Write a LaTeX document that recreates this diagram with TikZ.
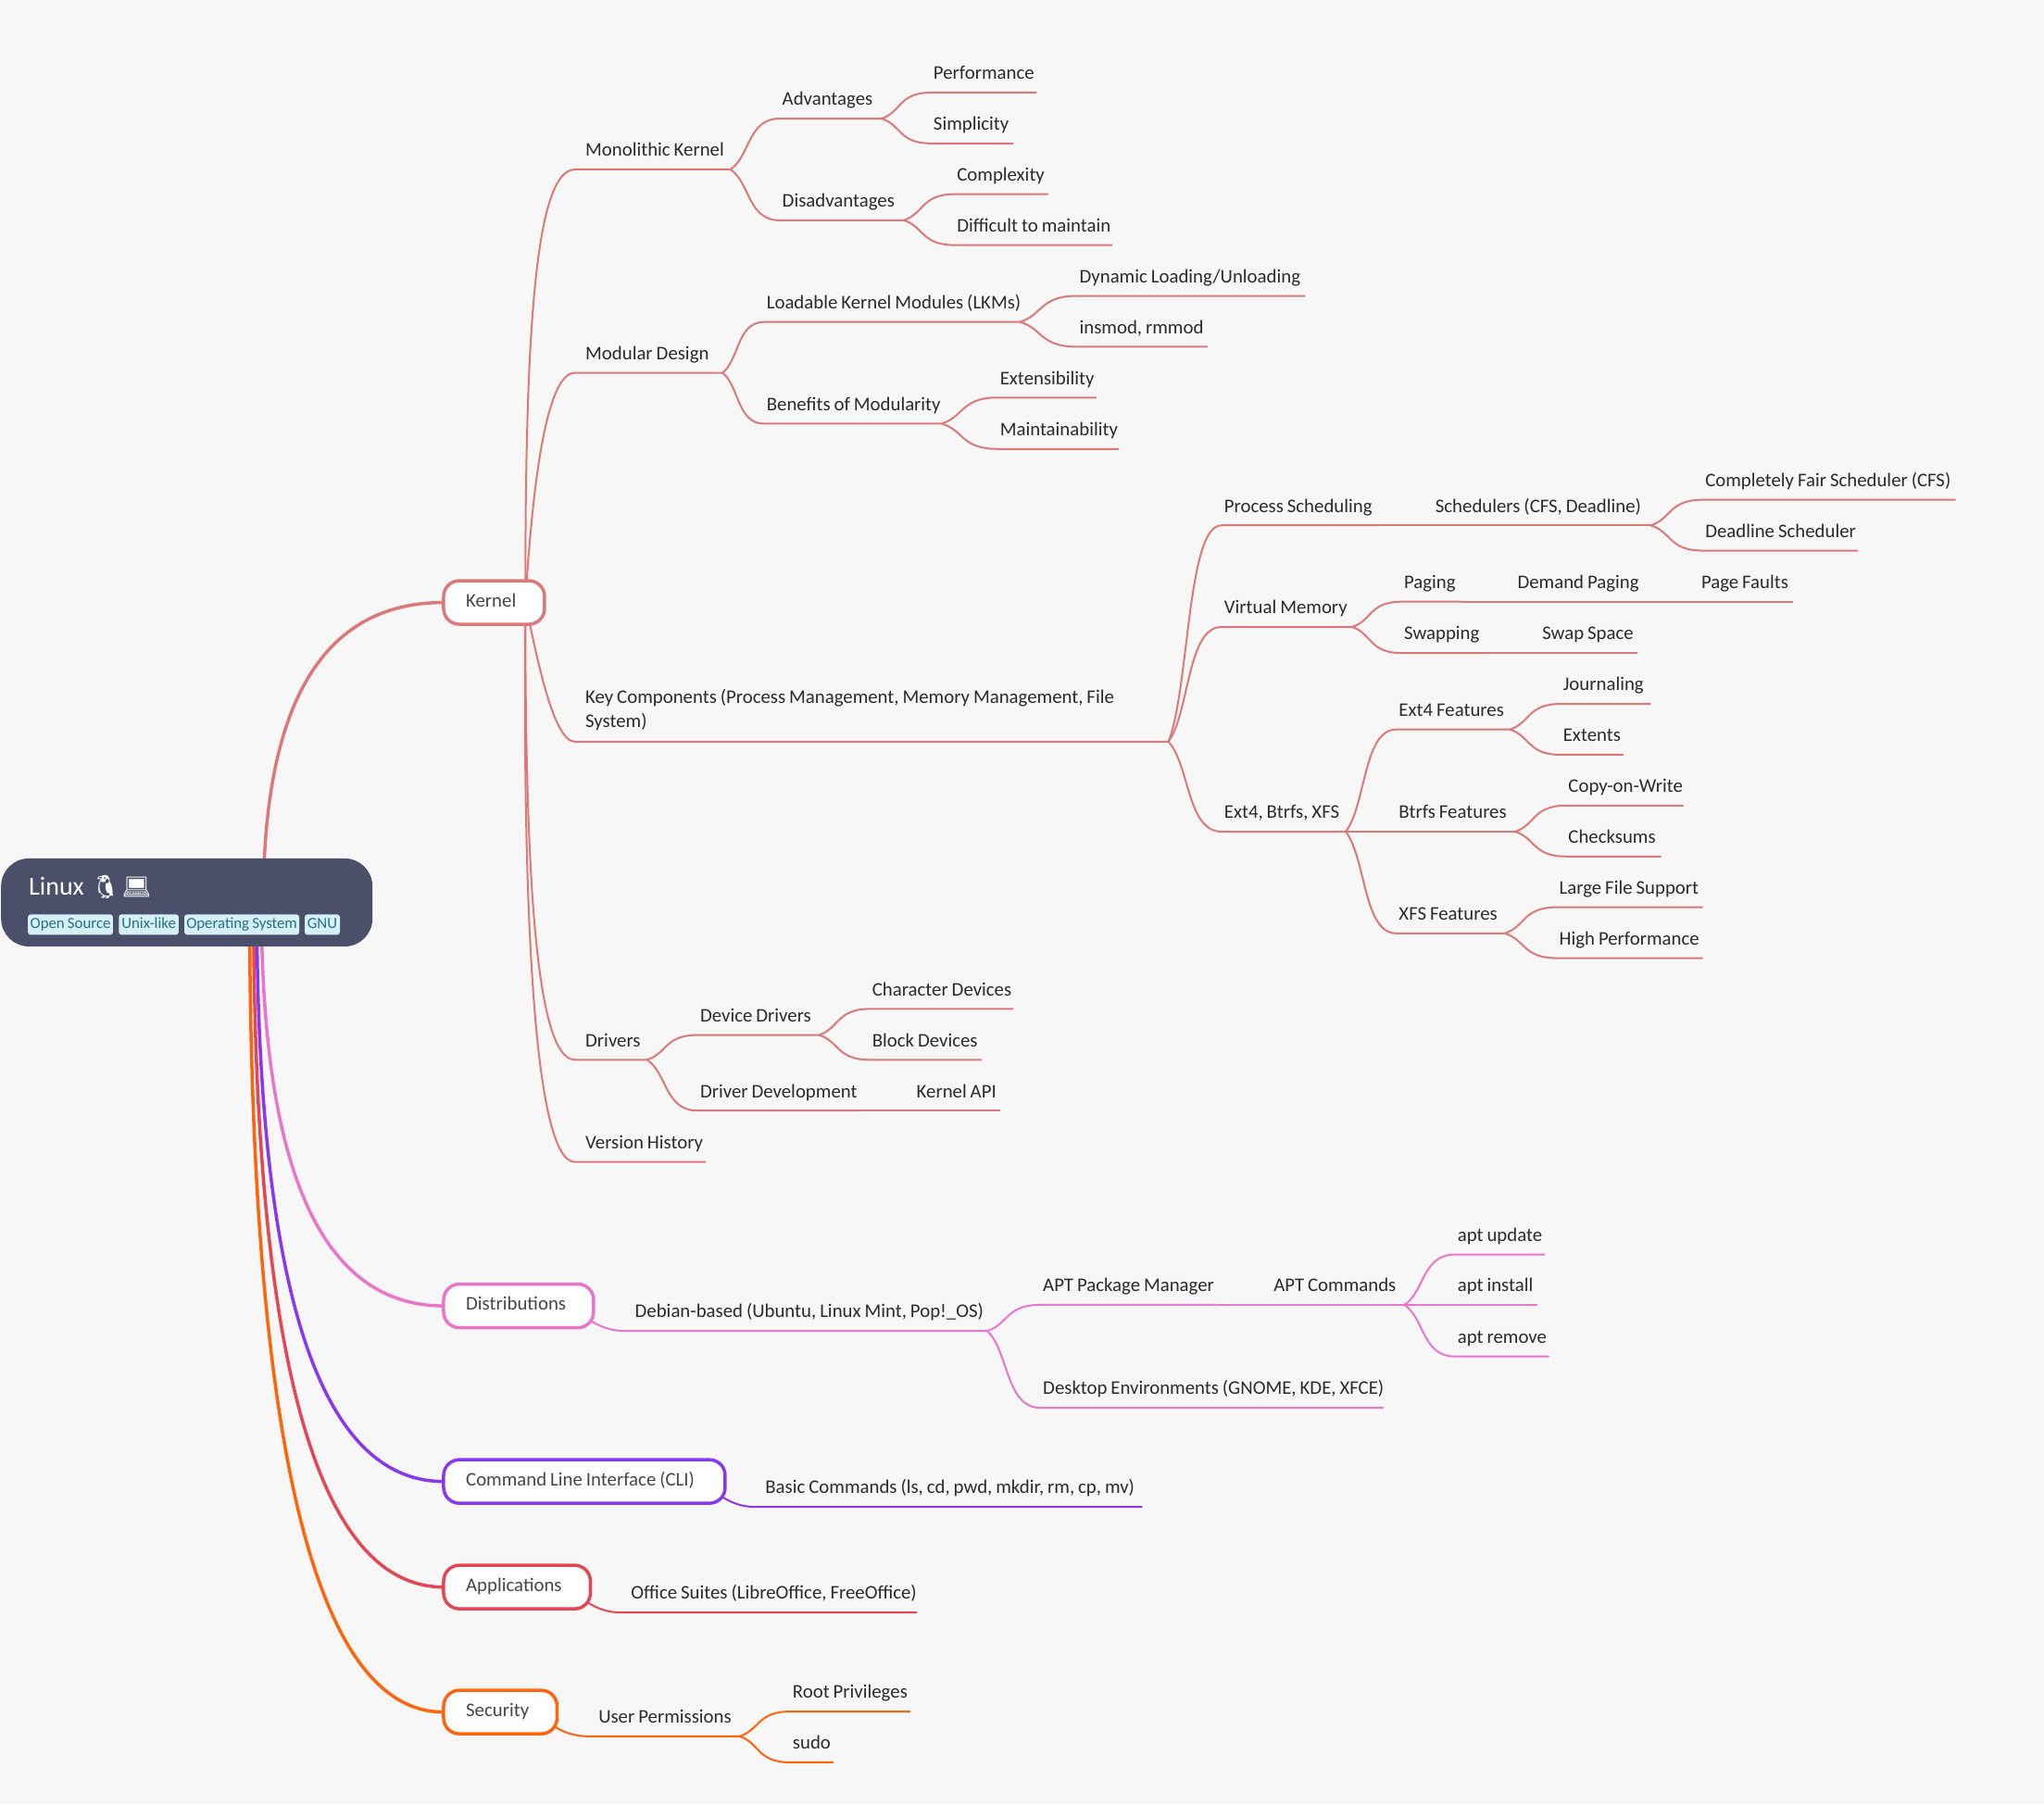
\documentclass[tikz,border=0pt]{standalone}
\usepackage{fontspec}
\setmainfont{Carlito}
\newfontfamily\emojifont{Noto Emoji}
\usetikzlibrary{calc,backgrounds}
\definecolor{pagebg}{HTML}{F7F7F7}
\definecolor{rootbg}{HTML}{4C4F69}
\definecolor{cKernel}{HTML}{DD7878}
\definecolor{cDist}{HTML}{EA76CB}
\definecolor{cCli}{HTML}{8839EF}
\definecolor{cApp}{HTML}{E64553}
\definecolor{cSec}{HTML}{FE640B}
\definecolor{subtext}{HTML}{2B2B2F}
\definecolor{maintext}{HTML}{46464A}
\definecolor{tagbg}{HTML}{D6F0F8}
\definecolor{tagtext}{HTML}{276F86}
\newcommand\fnt[1]{\fontsize{#1}{24}\selectfont\spaceskip=0.19em\relax}
\newcommand\tightspace{\spaceskip=0.19em\relax}
\tikzset{
  subtopic/.style={anchor=south west,inner xsep=0pt,inner ysep=14pt,text depth=0pt,
    text=subtext,font=\fnt{20.8}},
  mainbox/.style={anchor=west,draw=#1,fill=white,line width=3.5pt,rounded corners=17pt,
    minimum height=47pt,inner ysep=0pt,inner xsep=0pt,outer sep=0pt,text=maintext,
    font=\fnt{20.8},text height=14pt,text depth=5pt},
  tagbox/.style={anchor=west,fill=tagbg,rounded corners=3pt,inner sep=0pt,
    minimum height=22pt,text=tagtext,font=\fnt{16.8},text height=11pt,text depth=3pt},
  rootbox/.style={anchor=north west,fill=rootbg,rounded corners=30pt,inner sep=0pt,
    minimum width=401pt,minimum height=95pt},
  rootlink/.style={line width=3.5pt},
  sublink/.style={line width=2pt},
}
% name, text x, underline end x, underline y, text
\newcommand\tp[5]{\node[subtopic,text width={(#3-#2+2)*1.4075pt}] (#1) at ({#2-2},#4)
  {\tightspace\hspace*{2.815pt}\mbox{#5}};}
% parent, child, colour: branch and the child's underline
\newcommand\lk[3]{\draw[sublink,#3] let \p1=(#1.south east),\p2=(#2.south west),
  \n1={\x1+0.4*(\x2-\x1)},\n2={\y1+0.25*(\y2-\y1)},\n3={\x1+0.35*(\x2-\x1)} in
  (\p1) .. controls (\n1,\n2) and (\n3,\y2) .. (\p2) -- (#2.south east);}
% main node, child, colour: short branch leaving from behind the main node
\newcommand\ml[3]{\draw[sublink,#3] let \p1=($(#1.east)+(-15,0)$),\p2=($(#2.south west)+(-6,0)$),
  \n1={\x1+0.25*(\x2-\x1)},\n2={\x1+0.6*(\x2-\x1)},\n3={\y1+0.6*(\y2-\y1)} in
  (\p1) .. controls (\n1,\n3) and (\n2,\y2) .. (\p2) -- (#2.south east);}
% kernel start, child, first and second control point
\newcommand\kl[4]{\draw[sublink,cKernel] (#1) .. controls #3 and #4 .. ($(#2.south west)+(-6,0)$) -- (#2.south east);}
% root start, main node, colour
\newcommand\rl[3]{\draw[rootlink,#3] let \p1=(#1),\p2=(#2.west),
  \n1={\y1+0.667*(\y2-\y1)},\n2={\x1+0.333*(\x2-\x1)} in
  (\p1) .. controls (\x1,\n1) and (\n2,\y2) .. (\p2);}
\begin{document}
\begin{tikzpicture}[x=1.4075pt,y=-1.4075pt]
\useasboundingbox (0,0) rectangle (1568,1384);
% root
\node[rootbox] (root) at (0.7,658.4) {};
\node[anchor=base west,inner sep=0pt,text=white,font=\fontsize{28}{32}\selectfont] (rootlabel) at (22,687)
  {Linux\hspace{7pt}{\emojifont\fontsize{25}{30}\selectfont 🐧\hspace{2pt}💻}};
\node[tagbox,minimum width=91.8pt] (tagA) at (21.3,709.3) {Open Source};
\node[tagbox,minimum width=64.7pt] (tagB) at (91,709.3) {Unix-like};
\node[tagbox,minimum width=124pt] (tagC) at (141.3,709.3) {Operating System};
\node[tagbox,minimum width=38pt] (tagD) at (233.6,709.3) {GNU};
% main nodes
\newcommand\mn[5]{\node[mainbox=#4,minimum width=#3pt,text width=#3pt] (#1) at (340.3,#2)
  {\tightspace\hspace*{24.2pt}\mbox{#5}};}
\mn{Kernel}{462.2}{109}{cKernel}{Kernel}
\mn{Dist}{1001.8}{162}{cDist}{Distributions}
\mn{Cli}{1136.5}{304}{cCli}{Command Line Interface (CLI)}
\mn{App}{1217.5}{158.5}{cApp}{Applications}
\mn{Sec}{1313.4}{122.5}{cSec}{Security}
% kernel
\tp{mono}{449}{560}{130}{Monolithic Kernel}
\tp{adv}{600}{676}{91}{Advantages}
\tp{perf}{716}{795}{71}{Performance}
\tp{simp}{716}{777}{110}{Simplicity}
\tp{dis}{600}{693}{169}{Disadvantages}
\tp{cplx}{734}{804}{149}{Complexity}
\tp{diff}{734}{853}{188}{Difficult to maintain}
\tp{modd}{449}{554}{286}{Modular Design}
\tp{lkm}{588}{782}{247}{Loadable Kernel Modules (LKMs)}
\tp{dyn}{828}{1001}{227}{Dynamic Loading/Unloading}
\tp{ins}{828}{926}{266}{insmod, rmmod}
\tp{ben}{588}{722}{325}{Benefits of Modularity}
\tp{ext}{767}{841}{305}{Extensibility}
\tp{maint}{767}{858}{344.4}{Maintainability}
\tp{key}{449}{896}{569}{\raisebox{1.4pt}{\vbox{\baselineskip=25.3pt\hbox{Key Components (Process Management, Memory Management, File}\hbox{System)}}}}
\tp{proc}{939}{1057}{403}{Process Scheduling}
\tp{sched}{1101}{1266}{403}{Schedulers (CFS, Deadline)}
\tp{cfs}{1308}{1500}{383.4}{Completely Fair Scheduler (CFS)}
\tp{dead}{1308}{1425}{422.4}{Deadline Scheduler}
\tp{vm}{939}{1037}{481}{Virtual Memory}
\tp{pag}{1077}{1120}{461.6}{Paging}
\tp{dem}{1164}{1261}{461.6}{Demand Paging}
\tp{pf}{1305}{1375}{461.6}{Page Faults}
\tp{swp}{1077}{1140}{501}{Swapping}
\tp{sws}{1183}{1256}{501}{Swap Space}
\tp{fs}{939}{1032}{638}{Ext4, Btrfs, XFS}
\tp{e4}{1073}{1158}{559.6}{Ext4 Features}
\tp{jn}{1199}{1266}{540}{Journaling}
\tp{exn}{1199}{1245}{579}{Extents}
\tp{bt}{1073}{1162}{638}{Btrfs Features}
\tp{cow}{1203}{1291}{618}{Copy-on-Write}
\tp{chk}{1203}{1274}{657}{Checksums}
\tp{xf}{1073}{1154}{716}{XFS Features}
\tp{lfs}{1196}{1306}{696}{Large File Support}
\tp{hp}{1196}{1306}{735}{High Performance}
\tp{drv}{449}{496}{813}{Drivers}
\tp{dd}{537}{628}{794}{Device Drivers}
\tp{chd}{669}{777}{774}{Character Devices}
\tp{bkd}{669}{753}{813}{Block Devices}
\tp{dvd}{537}{660}{852}{Driver Development}
\tp{kapi}{703}{767}{852}{Kernel API}
\tp{ver}{449}{541}{891.4}{Version History}
% distributions
\tp{deb}{487}{757}{1021}{Debian-based (Ubuntu, Linux Mint, Pop!\_OS)}
\tp{apt}{800}{933}{1001}{APT Package Manager}
\tp{aptc}{977}{1077}{1001}{APT Commands}
\tp{aup}{1118}{1185}{962.4}{apt update}
\tp{ain}{1118}{1179}{1001}{apt install}
\tp{arm}{1118}{1188}{1040.6}{apt remove}
\tp{desk}{800}{1061}{1080}{Desktop Environments (GNOME, KDE, XFCE)}
% others
\tp{basic}{587}{876}{1156}{Basic Commands (ls, cd, pwd, mkdir, rm, cp, mv)}
\tp{off}{484}{703}{1237}{Office Suites (LibreOffice, FreeOffice)}
\tp{usr}{459}{567}{1332}{User Permissions}
\tp{rootp}{608}{698}{1313}{Root Privileges}
\tp{sudo}{608}{639}{1352}{sudo}
% start points hidden behind the boxes
\coordinate (r1) at (202,692);
\coordinate (r2) at (200.5,692);
\coordinate (r3) at (197,692);
\coordinate (r4) at (194.5,692);
\coordinate (r5) at (191.5,692);
\coordinate (kc) at (403,462.2);
\begin{pgfonlayer}{background}
\fill[pagebg] (0,0) rectangle (1568,1384);
\rl{r1}{Kernel}{cKernel}
\rl{r5}{Sec}{cSec}
\rl{r4}{App}{cApp}
\rl{r3}{Cli}{cCli}
\rl{r2}{Dist}{cDist}
% kernel's five branches
\kl{kc}{mono}{(403,280)}{(408,130)}
\kl{kc}{modd}{(408,380)}{(418,286)}
\kl{kc}{key}{(411,500)}{(424,569)}
\kl{kc}{drv}{(403,650)}{(409,813)}
\kl{kc}{ver}{(401,680)}{(408,891.4)}
\lk{mono}{adv}{cKernel}\lk{adv}{perf}{cKernel}\lk{adv}{simp}{cKernel}
\lk{mono}{dis}{cKernel}\lk{dis}{cplx}{cKernel}\lk{dis}{diff}{cKernel}
\lk{modd}{lkm}{cKernel}\lk{lkm}{dyn}{cKernel}\lk{lkm}{ins}{cKernel}
\lk{modd}{ben}{cKernel}\lk{ben}{ext}{cKernel}\lk{ben}{maint}{cKernel}
\lk{key}{proc}{cKernel}\lk{proc}{sched}{cKernel}\lk{sched}{cfs}{cKernel}\lk{sched}{dead}{cKernel}
\lk{key}{vm}{cKernel}\lk{vm}{pag}{cKernel}\lk{pag}{dem}{cKernel}\lk{dem}{pf}{cKernel}
\lk{vm}{swp}{cKernel}\lk{swp}{sws}{cKernel}
\lk{key}{fs}{cKernel}\lk{fs}{e4}{cKernel}\lk{e4}{jn}{cKernel}\lk{e4}{exn}{cKernel}
\lk{fs}{bt}{cKernel}\lk{bt}{cow}{cKernel}\lk{bt}{chk}{cKernel}
\lk{fs}{xf}{cKernel}\lk{xf}{lfs}{cKernel}\lk{xf}{hp}{cKernel}
\lk{drv}{dd}{cKernel}\lk{dd}{chd}{cKernel}\lk{dd}{bkd}{cKernel}
\lk{drv}{dvd}{cKernel}\lk{dvd}{kapi}{cKernel}
% distributions
\ml{Dist}{deb}{cDist}
\lk{deb}{apt}{cDist}\lk{apt}{aptc}{cDist}\lk{aptc}{aup}{cDist}\lk{aptc}{ain}{cDist}\lk{aptc}{arm}{cDist}
\lk{deb}{desk}{cDist}
% others
\ml{Cli}{basic}{cCli}
\ml{App}{off}{cApp}
\ml{Sec}{usr}{cSec}
\lk{usr}{rootp}{cSec}\lk{usr}{sudo}{cSec}
\end{pgfonlayer}
\end{tikzpicture}
\end{document}
